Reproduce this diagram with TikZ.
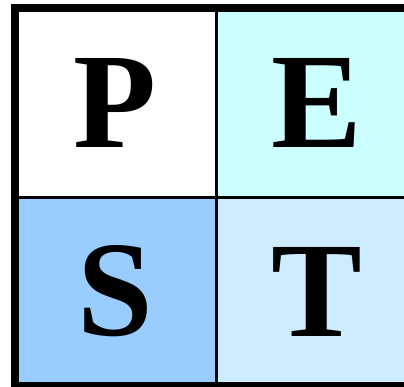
\documentclass[tikz,border=0pt]{standalone}
\usepackage{fontspec}
\newfontfamily\pestfont{Liberation Serif}[UprightFont={* Bold}]
\usepackage{tikz}
\usetikzlibrary{positioning}
\definecolor{pestWhite}{HTML}{FFFFFF}
\definecolor{pestCyan}{HTML}{CCFFFF}
\definecolor{pestBlue}{HTML}{99CCFF}
\definecolor{pestSky}{HTML}{CCECFF}

\begin{document}
\begin{tikzpicture}[
  x=1pt, y=1pt,
  cell/.style={minimum width=201pt, minimum height=189pt, inner sep=0pt,
               font=\pestfont\fontsize{136}{136}\selectfont},
  grid/.style={line width=3pt, draw=black},
  frame/.style={line width=8pt, draw=black}
]
\useasboundingbox (0,0) rectangle (404,-386);
\clip (0,0) rectangle (404,-386);

\node[cell, fill=pestWhite] (p) at (115.5,-102.5) {P};
\node[cell, fill=pestCyan]  (e) at (316.5,-102.5) {E};
\node[cell, fill=pestBlue]  (s) at (115.5,-291.5) {S};
\node[cell, fill=pestSky]   (t) at (316.5,-291.5) {T};

\draw[grid] (p.north east) -- (s.south east);
\draw[grid] (p.south west) -- (e.south east);
\draw[frame] (p.north west) rectangle (t.south east);

\end{tikzpicture}
\end{document}
